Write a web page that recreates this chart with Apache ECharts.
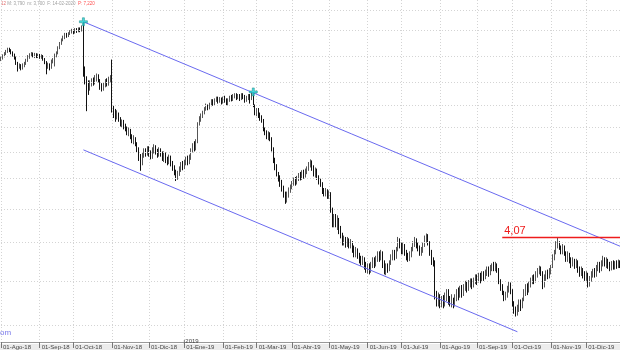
<!DOCTYPE html>
<html><head><meta charset="utf-8">
<script src="https://cdn.jsdelivr.net/npm/echarts@6/dist/echarts.min.js"></script>
<style>html,body{margin:0;padding:0;background:#fff}#c{width:620px;height:350px}</style>
</head><body><div id="c"></div>
<script>
// ---- data ----
const tickLabels = ['01-Ago-18','01-Sep-18','01-Oct-18','01-Nov-18','01-Dic-18','01-Ene-19','01-Feb-19','01-Mar-19','01-Abr-19','01-May-19','01-Jun-19','01-Jul-19','01-Ago-19','01-Sep-19','01-Oct-19','01-Nov-19','01-Dic-19'];
// daily bars: [open, close, low, high]
const ohlc = [
[7.58,7.62,7.54,7.66],[7.62,7.68,7.58,7.72],[7.68,7.74,7.64,7.78],[7.74,7.80,7.70,7.84],[7.80,7.86,7.76,7.90],
[7.86,7.83,7.78,7.90],[7.83,7.78,7.72,7.86],[7.78,7.72,7.66,7.80],[7.72,7.64,7.58,7.74],[7.64,7.50,7.44,7.66],
[7.50,7.38,7.27,7.52],[7.38,7.42,7.34,7.48],[7.42,7.35,7.30,7.46],[7.35,7.44,7.32,7.48],[7.44,7.48,7.38,7.52],
[7.48,7.56,7.44,7.60],[7.56,7.66,7.52,7.70],[7.66,7.70,7.60,7.75],[7.70,7.74,7.66,7.78],[7.74,7.68,7.64,7.77],
[7.68,7.72,7.62,7.76],[7.72,7.66,7.62,7.75],[7.66,7.70,7.62,7.74],[7.70,7.64,7.60,7.73],[7.64,7.68,7.60,7.72],
[7.68,7.60,7.55,7.70],[7.60,7.52,7.46,7.62],[7.52,7.40,7.20,7.54],[7.40,7.44,7.34,7.50],[7.44,7.36,7.30,7.48],
[7.36,7.54,7.34,7.58],[7.54,7.58,7.48,7.62],[7.58,7.70,7.40,7.74],[7.70,7.76,7.64,7.80],[7.76,7.90,7.72,7.94],
[7.90,8.02,7.86,8.06],[8.02,8.12,7.98,8.16],[8.12,8.20,8.08,8.24],[8.20,8.28,8.14,8.32],[8.28,8.24,8.18,8.32],
[8.24,8.30,8.20,8.34],[8.30,8.36,8.26,8.40],[8.36,8.40,8.30,8.44],[8.40,8.34,8.28,8.42],[8.34,8.42,8.30,8.46],
[8.42,8.38,8.32,8.46],[8.38,8.44,8.34,8.48],[8.44,8.40,8.34,8.48],[8.40,8.50,8.36,8.54],[8.50,7.30,7.14,8.65],
[7.30,7.10,6.95,7.40],[7.10,6.90,6.33,7.15],[6.90,6.88,6.70,7.05],[6.88,6.95,6.80,7.05],[6.95,7.05,6.90,7.10],
[7.05,7.00,6.92,7.12],[7.00,7.10,6.95,7.18],[7.10,7.15,7.02,7.22],[7.15,7.05,7.00,7.20],[7.05,6.90,6.82,7.08],
[6.90,6.84,6.78,6.98],[6.84,6.95,6.80,7.00],[6.95,7.02,6.88,7.08],[7.02,6.96,6.90,7.10],[6.96,7.08,6.92,7.14],
[7.08,7.10,7.00,7.18],[7.50,6.40,6.30,7.58],[6.40,6.30,6.18,6.45],[6.30,6.22,6.10,6.38],[6.22,6.28,6.15,6.35],
[6.28,6.15,6.10,6.30],[6.15,6.05,6.00,6.20],[6.05,6.10,5.98,6.15],[6.10,6.00,5.94,6.14],[6.00,5.96,5.90,6.06],
[5.96,5.88,5.82,6.00],[5.88,5.92,5.80,5.98],[5.92,5.80,5.74,5.95],[5.80,5.72,5.66,5.84],[5.72,5.76,5.64,5.82],
[5.76,5.66,5.60,5.78],[5.66,5.55,5.48,5.68],[5.55,5.40,5.32,5.58],[5.40,5.28,5.14,5.45],[5.28,5.42,5.24,5.48],
[5.42,5.50,5.38,5.56],[5.50,5.46,5.40,5.56],[5.46,5.55,5.42,5.60],[5.55,5.48,5.40,5.60],[5.48,5.40,5.35,5.52],
[5.40,5.52,5.36,5.58],[5.52,5.58,5.46,5.64],[5.58,5.50,5.44,5.62],[5.50,5.44,5.38,5.55],[5.44,5.52,5.40,5.58],
[5.52,5.46,5.40,5.56],[5.46,5.38,5.32,5.50],[5.38,5.45,5.30,5.50],[5.45,5.36,5.28,5.48],[5.36,5.30,5.24,5.40],
[5.30,5.38,5.26,5.44],[5.38,5.28,5.22,5.42],[5.28,5.20,5.14,5.32],[5.20,5.12,5.06,5.24],[5.12,5.02,4.96,5.16],
[5.02,5.10,4.98,5.14],[5.10,5.18,5.05,5.22],[5.18,5.26,5.12,5.30],[5.26,5.20,5.15,5.32],[5.20,5.28,5.17,5.34],
[5.28,5.34,5.24,5.40],[5.34,5.30,5.24,5.42],[5.30,5.38,5.26,5.44],[5.38,5.52,5.34,5.56],[5.52,5.60,5.48,5.66],
[5.60,5.56,5.50,5.70],[5.56,5.68,5.52,5.74],[5.68,6.05,5.66,6.09],[6.05,6.15,6.02,6.22],[6.15,6.22,6.10,6.28],
[6.22,6.30,6.18,6.34],[6.30,6.38,6.26,6.42],[6.38,6.44,6.34,6.50],[6.44,6.40,6.35,6.48],[6.40,6.48,6.37,6.52],
[6.48,6.55,6.44,6.60],[6.55,6.50,6.45,6.60],[6.50,6.58,6.46,6.62],[6.58,6.62,6.54,6.66],[6.62,6.56,6.50,6.66],
[6.56,6.60,6.52,6.65],[6.60,6.54,6.48,6.64],[6.54,6.62,6.50,6.66],[6.62,6.58,6.52,6.68],[6.58,6.50,6.45,6.62],
[6.50,6.58,6.46,6.62],[6.58,6.64,6.54,6.68],[6.64,6.60,6.55,6.70],[6.60,6.66,6.56,6.72],[6.66,6.70,6.62,6.74],
[6.70,6.64,6.58,6.74],[6.64,6.68,6.60,6.72],[6.68,6.62,6.56,6.72],[6.62,6.70,6.58,6.74],[6.70,6.66,6.60,6.74],
[6.66,6.58,6.52,6.70],[6.58,6.64,6.54,6.68],[6.64,6.68,6.58,6.72],[6.68,6.60,6.50,6.72],[6.62,6.72,6.58,6.76],
[6.72,6.45,6.42,6.77],[6.45,6.30,6.24,6.48],[6.30,6.36,6.22,6.40],[6.36,6.26,6.18,6.40],[6.26,6.20,6.12,6.30],
[6.20,6.14,6.08,6.24],[6.14,5.95,5.90,6.16],[5.95,5.88,5.82,5.98],[5.88,5.80,5.74,5.92],[5.80,5.84,5.72,5.90],
[5.84,5.76,5.70,5.88],[5.76,5.55,5.50,5.78],[5.55,5.35,5.28,5.58],[5.35,5.22,5.15,5.38],[5.22,5.10,5.04,5.26],
[5.10,5.02,4.95,5.12],[5.02,4.92,4.86,5.06],[4.92,4.85,4.78,4.98],[4.85,4.74,4.68,4.88],[4.74,4.64,4.58,4.78],
[4.64,4.72,4.60,4.78],[4.72,4.80,4.68,4.85],[4.80,4.86,4.76,4.90],[4.86,4.92,4.82,4.96],[4.92,4.98,4.88,5.02],
[4.98,4.94,4.88,5.03],[4.94,5.00,4.90,5.05],[5.00,5.06,4.96,5.10],[5.06,5.02,4.97,5.12],[5.02,5.10,4.98,5.15],
[5.10,5.05,5.00,5.16],[5.05,5.12,5.02,5.18],[5.12,5.18,5.08,5.22],[5.18,5.26,5.14,5.30],[5.26,5.30,5.20,5.35],
[5.30,5.20,5.14,5.33],[5.20,5.10,5.04,5.24],[5.10,5.16,5.02,5.20],[5.16,5.04,4.98,5.18],[5.04,4.96,4.90,5.06],
[4.96,4.92,4.86,5.00],[4.92,4.80,4.74,4.94],[4.80,4.76,4.70,4.84],[4.76,4.80,4.70,4.84],[4.80,4.72,4.66,4.82],
[4.72,4.75,4.66,4.80],[4.75,4.50,4.44,4.77],[4.50,4.30,4.22,4.52],[4.30,4.38,4.22,4.42],[4.38,4.28,4.22,4.42],
[4.28,4.34,4.18,4.40],[4.34,4.20,4.12,4.36],[4.20,4.12,4.06,4.24],[4.12,4.02,3.96,4.14],[4.02,4.06,3.96,4.10],
[4.06,3.98,3.93,4.08],[3.98,4.04,3.94,4.08],[4.04,3.96,3.92,4.06],[3.96,4.00,3.92,4.05],[4.00,3.92,3.86,4.02],
[3.92,3.86,3.80,3.96],[3.86,3.90,3.80,3.94],[3.90,3.84,3.78,3.92],[3.84,3.78,3.72,3.86],[3.78,3.74,3.69,3.82],
[3.74,3.78,3.70,3.82],[3.78,3.70,3.64,3.80],[3.70,3.64,3.60,3.74],[3.64,3.68,3.59,3.72],[3.68,3.62,3.58,3.72],
[3.62,3.70,3.60,3.74],[3.70,3.76,3.66,3.80],[3.76,3.72,3.66,3.80],[3.72,3.78,3.68,3.82],[3.78,3.84,3.74,3.88],
[3.84,3.80,3.74,3.88],[3.80,3.86,3.76,3.90],[3.86,3.72,3.66,3.88],[3.72,3.64,3.58,3.76],[3.64,3.68,3.57,3.72],
[3.68,3.64,3.60,3.72],[3.64,3.72,3.62,3.76],[3.72,3.80,3.70,3.84],[3.80,3.86,3.76,3.90],[3.86,3.82,3.76,3.90],
[3.82,3.90,3.78,3.94],[3.90,4.02,3.88,4.08],[4.02,3.96,3.92,4.06],[3.96,3.90,3.84,4.00],[3.90,3.96,3.84,4.00],
[3.96,3.88,3.82,3.98],[3.88,3.82,3.76,3.90],[3.82,3.78,3.74,3.86],[3.78,3.84,3.75,3.88],[3.84,3.90,3.80,3.94],
[3.90,3.98,3.88,4.02],[3.98,4.02,3.94,4.08],[4.02,3.96,3.92,4.06],[3.96,3.92,3.88,4.00],[3.92,3.86,3.82,3.96],
[3.86,3.90,3.82,3.94],[3.90,3.96,3.86,4.00],[3.96,4.06,3.94,4.10],[4.06,4.10,4.00,4.13],[4.10,4.00,3.96,4.12],
[4.00,3.88,3.82,4.02],[3.88,3.76,3.70,3.90],[3.76,3.74,3.68,3.80],[3.74,3.32,3.28,3.76],[3.32,3.26,3.20,3.38],
[3.26,3.30,3.20,3.36],[3.30,3.24,3.18,3.34],[3.24,3.28,3.19,3.32],[3.28,3.22,3.18,3.33],[3.22,3.30,3.20,3.36],
[3.30,3.36,3.26,3.40],[3.36,3.28,3.22,3.40],[3.28,3.24,3.20,3.32],[3.24,3.28,3.19,3.34],[3.28,3.22,3.18,3.30],
[3.22,3.30,3.20,3.34],[3.30,3.36,3.26,3.40],[3.36,3.32,3.27,3.42],[3.32,3.40,3.30,3.44],[3.40,3.36,3.30,3.45],
[3.36,3.42,3.32,3.46],[3.42,3.46,3.38,3.50],[3.46,3.40,3.36,3.50],[3.40,3.46,3.38,3.51],[3.46,3.50,3.42,3.53],
[3.50,3.44,3.40,3.53],[3.44,3.50,3.42,3.54],[3.50,3.54,3.46,3.58],[3.54,3.50,3.45,3.58],[3.50,3.56,3.48,3.60],
[3.56,3.52,3.47,3.60],[3.52,3.58,3.49,3.62],[3.58,3.55,3.50,3.62],[3.55,3.60,3.52,3.64],[3.60,3.64,3.56,3.68],
[3.64,3.60,3.55,3.68],[3.60,3.66,3.57,3.70],[3.66,3.70,3.62,3.72],[3.70,3.66,3.62,3.74],[3.66,3.70,3.62,3.74],
[3.70,3.64,3.60,3.72],[3.64,3.50,3.46,3.66],[3.50,3.42,3.38,3.52],[3.42,3.36,3.33,3.46],[3.36,3.30,3.26,3.38],
[3.30,3.34,3.27,3.37],[3.34,3.40,3.30,3.44],[3.40,3.46,3.36,3.49],[3.46,3.38,3.34,3.48],[3.38,3.24,3.20,3.40],
[3.24,3.16,3.12,3.26],[3.16,3.12,3.09,3.20],[3.12,3.18,3.10,3.22],[3.18,3.24,3.14,3.28],[3.24,3.20,3.15,3.28],
[3.20,3.28,3.18,3.30],[3.28,3.36,3.26,3.40],[3.36,3.42,3.32,3.46],[3.42,3.38,3.33,3.47],[3.38,3.46,3.36,3.49],
[3.46,3.50,3.42,3.54],[3.50,3.54,3.46,3.57],[3.54,3.50,3.46,3.58],[3.50,3.58,3.48,3.62],[3.58,3.62,3.54,3.66],
[3.62,3.66,3.58,3.69],[3.66,3.60,3.56,3.68],[3.60,3.48,3.40,3.62],[3.48,3.54,3.42,3.58],[3.54,3.60,3.50,3.63],
[3.60,3.56,3.52,3.64],[3.56,3.62,3.53,3.66],[3.62,3.68,3.58,3.70],[3.68,3.80,3.66,3.84],[3.80,3.86,3.76,3.90],
[3.86,3.98,3.84,4.02],[3.98,4.00,3.92,4.07],[4.00,3.94,3.90,4.02],[3.94,3.88,3.84,3.96],[3.88,3.94,3.84,3.98],
[3.94,3.86,3.82,3.96],[3.86,3.80,3.74,3.88],[3.80,3.84,3.74,3.88],[3.84,3.78,3.72,3.86],[3.78,3.72,3.66,3.80],
[3.72,3.76,3.68,3.80],[3.76,3.70,3.65,3.78],[3.70,3.74,3.66,3.78],[3.74,3.66,3.60,3.76],[3.66,3.60,3.55,3.68],
[3.60,3.64,3.56,3.68],[3.64,3.58,3.53,3.66],[3.58,3.54,3.50,3.62],[3.54,3.58,3.50,3.62],[3.58,3.48,3.42,3.60],
[3.48,3.52,3.43,3.56],[3.52,3.58,3.49,3.62],[3.58,3.62,3.54,3.65],[3.62,3.58,3.54,3.66],[3.58,3.66,3.55,3.70],
[3.66,3.70,3.62,3.74],[3.70,3.64,3.60,3.74],[3.64,3.72,3.62,3.76],[3.72,3.78,3.68,3.82],[3.78,3.72,3.68,3.80],
[3.72,3.76,3.66,3.80],[3.76,3.70,3.65,3.78],[3.70,3.66,3.62,3.74],[3.66,3.72,3.63,3.75],[3.72,3.68,3.64,3.76],
[3.68,3.72,3.64,3.75],[3.72,3.70,3.65,3.76],[3.70,3.74,3.66,3.77],[3.74,3.70,3.66,3.76]
];
const gridValues = [9.0, 8.41, 7.66, 7.0, 6.47, 5.99, 5.49, 5.0, 4.5, 4.0, 3.49, 3.0];
const upperChannel = [[49, 8.65], [368, 3.95]];
const lowerChannel = [[49, 5.53], [307, 2.93]];
const resistance = {from: 298, to: 368, value: 4.07, label: '4,07'};
const stars = [[49, 8.65], [150, 6.77]];
const headerText = {a: '12 ', b: 'M: 3,790  m: 3,700  F: 14-02-2020  ', c: 'P: 7,220'};

// ---- categories: weekdays from 1 Aug 2018 ----
const categories = [];
const monthStarts = [];
{
  let d = new Date(Date.UTC(2018, 7, 1));
  let lastM = -1;
  while (categories.length < ohlc.length) {
    const wd = d.getUTCDay();
    if (wd !== 0 && wd !== 6) {
      if (d.getUTCMonth() !== lastM) { monthStarts.push(categories.length); lastM = d.getUTCMonth(); }
      categories.push(d.toISOString().slice(0, 10));
    }
    d = new Date(d.getTime() + 86400000);
  }
}
const labelAt = {};
monthStarts.forEach((idx, k) => { if (k < tickLabels.length) labelAt[idx] = tickLabels[k]; });
const isMonth = (idx) => labelAt[idx] !== undefined;

const RED = '#ee1c1c';
const chart = echarts.init(document.getElementById('c'));
const option = {
  animation: false,
  backgroundColor: '#fff',
  grid: {left: 0, right: 0, top: 0, bottom: 6, containLabel: false},
  xAxis: {
    type: 'category', data: categories, boundaryGap: false,
    axisLine: {show: true, lineStyle: {color: '#999', width: 1}},
    axisTick: {show: true, interval: isMonth, length: 6, lineStyle: {color: '#777'}},
    axisLabel: {show: true, interval: isMonth, formatter: (v, i) => labelAt[i] || '', align: 'left',
      margin: 2, fontSize: 6, color: '#444', fontFamily: 'Liberation Sans', padding: [0, 0, 0, 2]},
    splitLine: {show: true, interval: isMonth, lineStyle: {color: '#d4d4d4', type: [1, 2], width: 1}}
  },
  yAxis: {
    type: 'log', logBase: 10, min: 2.827, max: 9.333, show: false,
    splitLine: {show: false}
  },
  series: [
    {
      type: 'line', data: [], silent: true, symbol: 'none',
      markLine: {silent: true, symbol: 'none', label: {show: false},
        lineStyle: {color: '#d4d4d4', type: [1, 2], width: 1},
        data: gridValues.map(v => ({yAxis: v}))}
    },
    {
      type: 'candlestick', data: ohlc, barWidth: 1.2,
      itemStyle: {color: '#8a8a8a', color0: '#111', borderColor: '#555', borderColor0: '#111', borderWidth: 1}
    },
    {
      type: 'line', data: [], silent: true, symbol: 'none',
      markLine: {silent: true, symbol: 'none', label: {show: false},
        lineStyle: {color: '#6a6af0', type: 'solid', width: 1},
        data: [
          [{coord: upperChannel[0]}, {coord: upperChannel[1]}],
          [{coord: lowerChannel[0]}, {coord: lowerChannel[1]}]
        ]}
    },
    {
      type: 'line', data: [], silent: true, symbol: 'none', color: RED, z: 5,
      itemStyle: {color: RED}, lineStyle: {color: RED},
      markLine: {silent: true, symbol: 'none', z: 5,
        itemStyle: {color: RED},
        lineStyle: {color: RED, type: 'solid', width: 1.3, opacity: 1},
        label: {show: true, position: 'insideStartTop', formatter: resistance.label, color: RED,
          fontSize: 11, fontFamily: 'Liberation Sans', distance: [2, 1]},
        data: [[{coord: [resistance.from, resistance.value], lineStyle: {color: RED}},
                {coord: [resistance.to, resistance.value], lineStyle: {color: RED}}]]}
    },
    {
      type: 'scatter', data: stars, z: 10,
      symbol: 'path://M3,0H5V3H8V5H5V8H3V5H0V3H3Z', symbolSize: 8,
      itemStyle: {color: '#22d4d4', borderColor: '#0b7f7f', borderWidth: 0.6}
    }
  ],
  graphic: [
    {type: 'rect', z: -10, shape: {x: 0, y: 344, width: 620, height: 6}, style: {fill: '#ececec'}},
    {type: 'text', left: 1, top: 1, z: 10,
      style: {text: '{a|' + headerText.a + '}{b|' + headerText.b + '}{c|' + headerText.c + '}',
        rich: {a: {fill: '#e07070', fontSize: 4.5, fontFamily: 'Liberation Sans'},
               b: {fill: '#a0a0a0', fontSize: 4.5, fontFamily: 'Liberation Sans'},
               c: {fill: '#ff5050', fontSize: 4.5, fontFamily: 'Liberation Sans'}}}},
    {type: 'text', left: 0, top: 329, z: 10,
      style: {text: 'om', fill: '#7b7bea', fontSize: 8, fontFamily: 'Liberation Sans'}}
  ]
};
chart.setOption(option);
// year marker at first bar of 2019
const janIdx = categories.findIndex(c => c.startsWith('2019-01'));
const jx = chart.convertToPixel({xAxisIndex: 0}, janIdx);
chart.setOption({graphic: option.graphic.concat([
  {type: 'line', z: 10, shape: {x1: jx, y1: 340, x2: jx, y2: 344}, style: {stroke: '#777', lineWidth: 1}},
  {type: 'text', x: jx + 1, y: 338, z: 10, style: {text: '2019', fill: '#444', fontSize: 6, fontFamily: 'Liberation Sans'}}
])});
</script></body></html>
